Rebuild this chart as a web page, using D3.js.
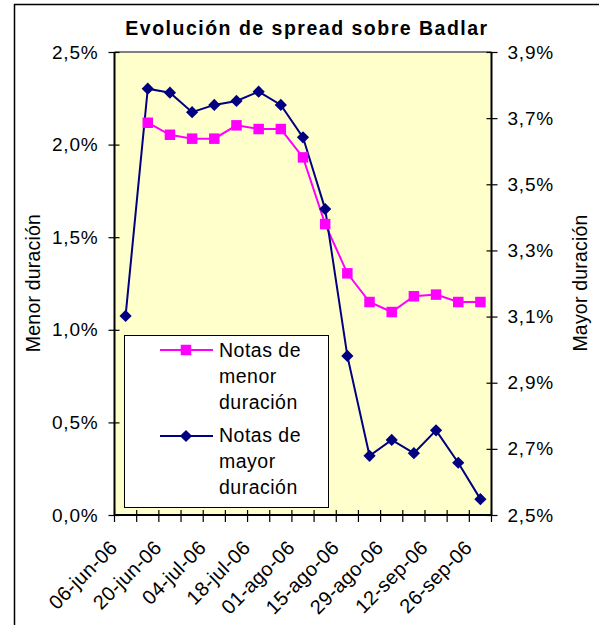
<!DOCTYPE html>
<html>
<head>
<meta charset="utf-8">
<script src="https://cdn.jsdelivr.net/npm/d3@7"></script>
<style>
  html, body { margin: 0; padding: 0; background: #fff; }
  svg { display: block; }
  svg text { font-family: Arial, "Liberation Sans", Helvetica, sans-serif !important; fill: #000; }
</style>
</head>
<body>
<svg id="chart" width="599" height="625"></svg>
<script>
// ---- data ----
const categories = ["06-jun-06","13-jun-06","20-jun-06","27-jun-06","04-jul-06","11-jul-06","18-jul-06","25-jul-06",
  "01-ago-06","08-ago-06","15-ago-06","22-ago-06","29-ago-06","05-sep-06","12-sep-06","19-sep-06","26-sep-06"];
const labelCategories = ["06-jun-06","20-jun-06","04-jul-06","18-jul-06","01-ago-06","15-ago-06","29-ago-06","12-sep-06","26-sep-06"];
// Notas de menor duración (left axis, %)
const menorValues = [null, 2.118, 2.053, 2.032, 2.032, 2.104, 2.084, 2.084, 1.931, 1.571, 1.305, 1.150, 1.096, 1.181, 1.190, 1.150, 1.150];
// Notas de mayor duración (right axis, %)
const mayorValues = [3.102, 3.789, 3.777, 3.718, 3.740, 3.752, 3.780, 3.740, 3.642, 3.425, 2.981, 2.679, 2.727, 2.687, 2.756, 2.658, 2.548];
const leftTicks = [0, 0.5, 1.0, 1.5, 2.0, 2.5];
const rightTicks = [2.5, 2.7, 2.9, 3.1, 3.3, 3.5, 3.7, 3.9];
const seriesNames = [["Notas de", "menor", "duración"], ["Notas de", "mayor", "duración"]];
const title = "Evolución de spread sobre Badlar";
const leftTitle = "Menor duración";
const rightTitle = "Mayor duración";

// ---- layout ----
const svg = d3.select("#chart");
const L = 114.5, R = 491.5, T = 52, B = 515;
const FONT = "Arial, 'Liberation Sans', Helvetica, sans-serif";

const x = d3.scaleBand().domain(categories).range([L, R]).padding(0);
const xc = d => x(d) + x.bandwidth() / 2;
const yL = d3.scaleLinear().domain([0, 2.5]).range([B, T]);
const yR = d3.scaleLinear().domain([2.5, 3.9]).range([B, T]);
const fmt = (dec) => v => v.toFixed(dec).replace(".", ",") + "%";

// outer border
svg.append("rect").attr("x", 14.5).attr("y", 4.5).attr("width", 700).attr("height", 700)
  .attr("fill", "none").attr("stroke", "#000").attr("stroke-width", 1.5);

// title
svg.append("text").attr("x", 307).attr("y", 35).attr("text-anchor", "middle")
  .attr("font-family", FONT)
  .style("font-size", "19.5px").style("font-weight", "bold").style("letter-spacing", "1.5px")
  .text(title);

// plot background
svg.append("rect").attr("x", L).attr("y", T).attr("width", R - L).attr("height", B - T)
  .attr("fill", "#FFFFCC");
// top border grey
svg.append("line").attr("x1", L).attr("x2", R).attr("y1", T).attr("y2", T)
  .attr("stroke", "#808080").attr("stroke-width", 2);

// left axis
const gL = svg.append("g").attr("transform", `translate(${L},0)`)
  .call(d3.axisLeft(yL).tickValues(leftTicks).tickFormat(fmt(1)).tickSize(6).tickPadding(10));
gL.attr("font-family", FONT);
gL.select(".domain").attr("stroke", "#000").attr("stroke-width", 2).attr("d", `M0,${T}V${B}`);
gL.selectAll(".tick line").attr("x1", 5).attr("stroke", "#000").attr("stroke-width", 1.2);
gL.selectAll(".tick text").style("font-size", "19px").style("letter-spacing", "0.8px").attr("fill", "#000");

// right axis
const gR = svg.append("g").attr("transform", `translate(${R},0)`)
  .call(d3.axisRight(yR).tickValues(rightTicks).tickFormat(fmt(1)).tickSize(6).tickPadding(10));
gR.attr("font-family", FONT);
gR.select(".domain").attr("stroke", "#000").attr("stroke-width", 2).attr("d", `M0,${T}V${B}`);
gR.selectAll(".tick line").attr("x1", -5).attr("stroke", "#000").attr("stroke-width", 1.2);
gR.selectAll(".tick text").style("font-size", "19px").style("letter-spacing", "0.8px").attr("fill", "#000");

// bottom axis: tick marks at band boundaries
const boundaries = categories.map(c => x(c)).concat([x.range()[1]]);
svg.append("line").attr("x1", L).attr("x2", R).attr("y1", B).attr("y2", B)
  .attr("stroke", "#000").attr("stroke-width", 2);
svg.append("g").selectAll("line").data(boundaries).join("line")
  .attr("x1", d => d).attr("x2", d => d).attr("y1", B - 5).attr("y2", B + 7)
  .attr("stroke", "#000").attr("stroke-width", 1.2);

// x labels
const gX = svg.append("g").attr("transform", `translate(0,${B})`)
  .call(d3.axisBottom(x).tickValues(labelCategories).tickSize(0).tickFormat(d => d));
gX.attr("font-family", FONT);
gX.select(".domain").remove();
gX.selectAll(".tick text")
  .attr("y", 0).attr("dy", 0)
  .attr("text-anchor", "end")
  .attr("transform", "translate(-7,34) rotate(-45)")
  .style("font-size", "20px").style("letter-spacing", "0.3px").attr("fill", "#000");

// axis titles
svg.append("text").attr("transform", "translate(40,283) rotate(-90)").attr("text-anchor", "middle")
  .attr("font-family", FONT).style("font-size", "19.5px").style("letter-spacing", "0.2px").text(leftTitle);
svg.append("text").attr("transform", "translate(587,283) rotate(-90)").attr("text-anchor", "middle")
  .attr("font-family", FONT).style("font-size", "19.5px").style("letter-spacing", "0.2px").text(rightTitle);

// series
const menorData = categories.map((c, i) => ({ c, v: menorValues[i] })).filter(d => d.v != null);
const mayorData = categories.map((c, i) => ({ c, v: mayorValues[i] }));

svg.append("path").datum(menorData)
  .attr("d", d3.line().x(d => xc(d.c)).y(d => yL(d.v)))
  .attr("fill", "none").attr("stroke", "#FF00FF").attr("stroke-width", 2);
svg.append("path").datum(mayorData)
  .attr("d", d3.line().x(d => xc(d.c)).y(d => yR(d.v)))
  .attr("fill", "none").attr("stroke", "#000080").attr("stroke-width", 2);

const sq = d3.symbol().type(d3.symbolSquare).size(110);
const dm = d3.symbol().type(d3.symbolDiamond2).size(95);
svg.append("g").selectAll("path").data(menorData).join("path")
  .attr("d", sq).attr("transform", d => `translate(${xc(d.c)},${yL(d.v)})`)
  .attr("fill", "#FF00FF");
svg.append("g").selectAll("path").data(mayorData).join("path")
  .attr("d", dm).attr("transform", d => `translate(${xc(d.c)},${yR(d.v)})`)
  .attr("fill", "#000080");

// legend
const lg = svg.append("g").attr("font-family", FONT);
lg.append("rect").attr("x", 124.5).attr("y", 335.5).attr("width", 204).attr("height", 172)
  .attr("fill", "#fff").attr("stroke", "#000").attr("stroke-width", 1);
const legendRows = [
  { color: "#FF00FF", sym: sq, ly: 350, base: 357, lines: seriesNames[0] },
  { color: "#000080", sym: dm, ly: 436, base: 442, lines: seriesNames[1] }
];
legendRows.forEach(r => {
  lg.append("line").attr("x1", 160).attr("x2", 213).attr("y1", r.ly).attr("y2", r.ly)
    .attr("stroke", r.color).attr("stroke-width", 2);
  lg.append("path").attr("d", r.sym).attr("transform", `translate(186,${r.ly})`).attr("fill", r.color);
  r.lines.forEach((t, i) => {
    lg.append("text").attr("x", 219).attr("y", r.base + i * 26)
      .style("font-size", "19.5px").style("letter-spacing", "0.5px").text(t);
  });
});
</script>
</body>
</html>
